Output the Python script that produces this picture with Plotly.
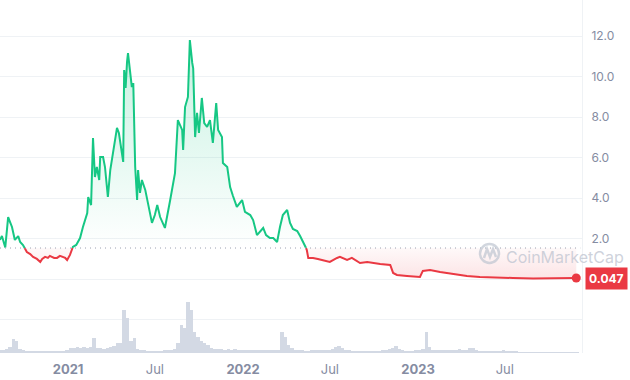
import pandas as pd
import plotly.graph_objects as go

# ---------------- data ----------------
price_dates = [
    "2020-08-12", "2020-08-16", "2020-08-23", "2020-08-29", "2020-09-02", "2020-09-06",
    "2020-09-12", "2020-09-19", "2020-09-23", "2020-09-29", "2020-10-07", "2020-10-14",
    "2020-10-20", "2020-10-28", "2020-11-04", "2020-11-08", "2020-11-14", "2020-11-20",
    "2020-11-24", "2020-12-03", "2020-12-09", "2020-12-15", "2020-12-19", "2020-12-26",
    "2020-12-30", "2021-01-05", "2021-01-11", "2021-01-18", "2021-01-22", "2021-01-26",
    "2021-02-01", "2021-02-05", "2021-02-10", "2021-02-12", "2021-02-18", "2021-02-22",
    "2021-02-26", "2021-03-02", "2021-03-07", "2021-03-09", "2021-03-15", "2021-03-19",
    "2021-03-25", "2021-03-30", "2021-04-05", "2021-04-13", "2021-04-17", "2021-04-24",
    "2021-04-26", "2021-04-28", "2021-05-01", "2021-05-04", "2021-05-06", "2021-05-10",
    "2021-05-14", "2021-05-17", "2021-05-21", "2021-05-25", "2021-05-27", "2021-05-31",
    "2021-06-04", "2021-06-11", "2021-06-17", "2021-06-25", "2021-07-01", "2021-07-06",
    "2021-07-12", "2021-07-22", "2021-08-02", "2021-08-12", "2021-08-18", "2021-08-27",
    "2021-08-29", "2021-09-02", "2021-09-08", "2021-09-12", "2021-09-17", "2021-09-19",
    "2021-09-23", "2021-09-27", "2021-10-01", "2021-10-07", "2021-10-12", "2021-10-18",
    "2021-10-24", "2021-10-30", "2021-11-06", "2021-11-10", "2021-11-18", "2021-11-20",
    "2021-11-29", "2021-12-05", "2021-12-11", "2021-12-19", "2021-12-30", "2022-01-05",
    "2022-01-16", "2022-01-22", "2022-01-30", "2022-02-05", "2022-02-12", "2022-02-18",
    "2022-02-26", "2022-03-05", "2022-03-13", "2022-03-19", "2022-03-25", "2022-04-03",
    "2022-04-09", "2022-04-15", "2022-04-24", "2022-04-30", "2022-05-06", "2022-05-10",
    "2022-05-14", "2022-05-17", "2022-05-27", "2022-06-06", "2022-06-17", "2022-07-01",
    "2022-07-16", "2022-07-22", "2022-08-06", "2022-08-16", "2022-09-02", "2022-09-17",
    "2022-10-14", "2022-11-04", "2022-11-10", "2022-11-18", "2022-12-09", "2023-01-05",
    "2023-01-11", "2023-01-26", "2023-02-16", "2023-03-15", "2023-04-13", "2023-05-10",
    "2023-06-21", "2023-07-18", "2023-08-29", "2023-10-10", "2023-11-27",
]
price_values = [
    1.93, 2.12, 1.56, 3.06, 2.81, 2.57,
    1.93, 2.12, 1.83, 1.68, 1.33, 1.23,
    1.09, 0.99, 0.84, 0.99, 1.09, 1.04,
    1.14, 1.04, 1.04, 1.14, 1.09, 1.04,
    0.94, 1.19, 1.58, 1.68, 1.83, 2.02,
    2.57, 2.91, 3.26, 4.05, 3.65, 6.96,
    5.04, 5.53, 4.89, 6.02, 6.02, 5.53,
    4.05, 5.38, 6.22, 7.46, 7.21, 6.02,
    5.78, 10.32, 9.43, 10.72, 11.16, 10.32,
    9.48, 9.68, 5.53, 3.90, 5.38, 4.25,
    4.89, 4.40, 3.75, 2.77, 3.16, 3.65,
    3.06, 2.52, 3.90, 5.23, 7.85, 7.36,
    6.37, 8.49, 8.99, 11.80, 10.67, 10.40,
    7.01, 8.20, 7.21, 8.94, 7.70, 7.51,
    7.85, 6.72, 8.69, 7.36, 7.01, 5.73,
    5.53, 4.54, 4.10, 3.56, 3.90, 3.31,
    3.16, 2.91, 2.17, 2.32, 2.52, 2.17,
    2.02, 2.02, 1.83, 2.57, 3.16, 3.41,
    2.77, 2.47, 2.37, 2.12, 1.83, 1.68,
    1.43, 1.04, 1.04, 0.99, 0.94, 0.84,
    1.04, 1.09, 0.94, 1.04, 0.79, 0.84,
    0.74, 0.69, 0.30, 0.20, 0.15, 0.10,
    0.40, 0.44, 0.35, 0.25, 0.15, 0.10,
    0.05, 0.05, 0.03, 0.03, 0.047,
]
base_price = 1.53          # price at the start of the period (dotted line)
last_price_label = "0.047"

# weekly volume (arbitrary units), starting 2020-08-12
volume_start = "2020-08-12"
volume_values = [
    3, 3, 4, 6, 14, 12, 4, 3, 2, 2,
    2, 2, 2, 2, 2, 2, 2, 2, 2, 2,
    3, 5, 5, 6, 5, 6, 5, 6, 15, 5,
    5, 4, 5, 6, 7, 10, 10, 43, 35, 12,
    15, 4, 3, 3, 2, 2, 2, 2, 2, 3,
    3, 3, 4, 10, 28, 25, 51, 43, 21, 16,
    12, 10, 8, 5, 4, 4, 4, 3, 4, 3,
    4, 3, 3, 3, 3, 3, 3, 3, 3, 3,
    3, 3, 3, 3, 21, 16, 8, 5, 3, 3,
    3, 2, 2, 3, 3, 3, 3, 3, 3, 4,
    6, 7, 5, 3, 3, 2, 2, 2, 2, 2,
    2, 2, 2, 2, 3, 3, 4, 5, 7, 4,
    3, 2, 2, 2, 3, 3, 4, 21, 6, 3,
    3, 3, 3, 3, 3, 3, 3, 4, 3, 3,
    5, 5, 3, 2, 2, 2, 2, 2, 2, 2,
    3, 2, 2, 2, 2, 1, 1, 1, 1, 1,
    1, 1, 1, 1, 1, 1, 1, 1, 1, 1,
    1, 1, 1,
]

x_tick_dates = ["2021-01-01", "2021-07-01", "2022-01-01", "2022-07-01", "2023-01-01", "2023-07-01"]
x_tick_labels = ["2021", "Jul", "2022", "Jul", "2023", "Jul"]
y_tick_values = [-2, 0, 2, 4, 6, 8, 10, 12]
y_tick_labels = ["", "", "2.0", "4.0", "6.0", "8.0", "10.0", "12.0"]

# ---------------- styling ----------------
GREEN = "#16c784"
RED = "#ea3943"
GRID = "#eff2f5"
LABEL = "#858ca2"
FONT = "Inter"
W, H = 630, 380
ML, MR, MT, MB = 0, 48, 0, 27
PW, PH = W - ML - MR, H - MT - MB

# ---------------- split line at the base price ----------------
t = pd.to_datetime(price_dates)
ns = t.astype("int64")
xs, ys = [], []
for i in range(len(t)):
    if i > 0:
        a, b = price_values[i - 1], price_values[i]
        if (a - base_price) * (b - base_price) < 0:
            f = (base_price - a) / (b - a)
            tc = ns[i - 1] + f * (ns[i] - ns[i - 1])
            xs.append(pd.Timestamp(int(tc)))
            ys.append(base_price)
    xs.append(t[i])
    ys.append(price_values[i])

green_line = [y if y >= base_price else None for y in ys]
red_line = [y if y <= base_price else None for y in ys]
green_fill = [max(y, base_price) for y in ys]
red_fill = [min(y, base_price) for y in ys]
baseline = [base_price] * len(ys)

vol_dates = pd.date_range(volume_start, periods=len(volume_values), freq="7D")

fig = go.Figure()

fig.add_trace(go.Bar(
    x=vol_dates, y=volume_values, yaxis="y",
    marker=dict(color="#d3d9e4", line=dict(width=0)),
    width=7 * 86400000, hoverinfo="skip", showlegend=False,
))

# fills
fig.add_trace(go.Scatter(x=xs, y=baseline, yaxis="y2", mode="lines",
                         line=dict(width=0), hoverinfo="skip", showlegend=False))
fig.add_trace(go.Scatter(
    x=xs, y=green_fill, yaxis="y2", mode="lines", line=dict(width=0),
    fill="tonexty",
    fillgradient=dict(type="vertical", start=base_price, stop=12,
                      colorscale=[[0, "rgba(22,199,132,0.0)"], [1, "rgba(22,199,132,0.25)"]]),
    hoverinfo="skip", showlegend=False))
fig.add_trace(go.Scatter(x=xs, y=baseline, yaxis="y2", mode="lines",
                         line=dict(width=0), hoverinfo="skip", showlegend=False))
fig.add_trace(go.Scatter(
    x=xs, y=red_fill, yaxis="y2", mode="lines", line=dict(width=0),
    fill="tonexty",
    fillgradient=dict(type="vertical", start=0, stop=base_price,
                      colorscale=[[0, "rgba(234,57,67,0.14)"], [1, "rgba(234,57,67,0.03)"]]),
    hoverinfo="skip", showlegend=False))

# lines
fig.add_trace(go.Scatter(x=xs, y=green_line, yaxis="y2", mode="lines",
                         line=dict(color=GREEN, width=2), connectgaps=False,
                         hoverinfo="skip", showlegend=False))
fig.add_trace(go.Scatter(x=xs, y=red_line, yaxis="y2", mode="lines",
                         line=dict(color=RED, width=2), connectgaps=False,
                         hoverinfo="skip", showlegend=False))
fig.add_trace(go.Scatter(x=[t[-1]], y=[price_values[-1]], yaxis="y2", mode="markers",
                         marker=dict(color=RED, size=9), hoverinfo="skip", showlegend=False))

# axes ranges: price 0 at y=279px, 12 at y=36px
px_per_unit = (279 - 36) / 12.0
r0 = -(H - MB - 279) / px_per_unit
r1 = r0 + PH / px_per_unit

year_lbl = [f"<b>{s}</b>" if s != "Jul" else s for s in x_tick_labels]

fig.update_layout(
    width=W, height=H,
    margin=dict(l=ML, r=MR, t=MT, b=MB),
    paper_bgcolor="white", plot_bgcolor="white",
    font=dict(family=FONT, color=LABEL),
    bargap=0,
    showlegend=False,
    xaxis=dict(
        type="date", range=["2020-08-12", "2023-12-09"],
        showgrid=False, zeroline=False, showline=False,
        tickvals=x_tick_dates, ticktext=year_lbl,
        ticks="outside", ticklen=4, tickcolor="rgba(0,0,0,0)",
        tickfont=dict(family=FONT, size=13, color=LABEL),
    ),
    yaxis=dict(range=[0, PH], visible=False, showgrid=False, fixedrange=True),
    yaxis2=dict(
        overlaying="y", side="right", range=[r0, r1],
        tickvals=y_tick_values, ticktext=y_tick_labels,
        showgrid=True, gridcolor=GRID, gridwidth=1, zeroline=False,
        showline=True, linecolor=GRID, linewidth=1,
        ticks="outside", ticklen=6, tickcolor="rgba(0,0,0,0)",
        tickfont=dict(family=FONT, size=12, color=LABEL),
    ),
)

# dotted base line
fig.add_shape(type="line", xref="paper", x0=0, x1=0.997, yref="y2",
              y0=base_price, y1=base_price,
              line=dict(color="#9aa1b0", width=1, dash="1px,4px"), layer="above")


def px2paper(x, y):
    return (x - ML) / PW, 1 - (y - MT) / PH


# watermark
cx0, cy0 = px2paper(480, 244)
cx1, cy1 = px2paper(499, 263)
fig.add_shape(type="circle", xref="paper", yref="paper", x0=cx0, y0=cy1, x1=cx1, y1=cy0,
              line=dict(color="rgba(190,196,208,0.7)", width=2.5), layer="above")
wave = [(484, 258), (487, 249), (490, 257), (493, 249), (496, 257)]
pts = [px2paper(x, y) for x, y in wave]
path = "M " + " L ".join(f"{x:.4f},{y:.4f}" for x, y in pts)
fig.add_shape(type="path", xref="paper", yref="paper", path=path,
              line=dict(color="rgba(190,196,208,0.7)", width=2.5), layer="above")
tx, ty = px2paper(565, 257)
fig.add_annotation(xref="paper", yref="paper", x=tx, y=ty, text="CoinMarketCap",
                   showarrow=False, xanchor="center", yanchor="middle",
                   font=dict(family=FONT, size=16, color="rgba(190,196,208,0.75)"))

# last price label
lx, _ = px2paper(585, 0)
fig.add_annotation(xref="paper", yref="y2", x=lx, y=price_values[-1],
                   text=f"<b>{last_price_label}</b>", showarrow=False,
                   xanchor="left", yanchor="middle", bgcolor=RED, borderpad=3,
                   font=dict(family=FONT, size=12, color="white"))

fig.write_html("out.html", config={"displayModeBar": False},
               post_script="document.body.style.margin='0';document.body.style.overflow='hidden';")
